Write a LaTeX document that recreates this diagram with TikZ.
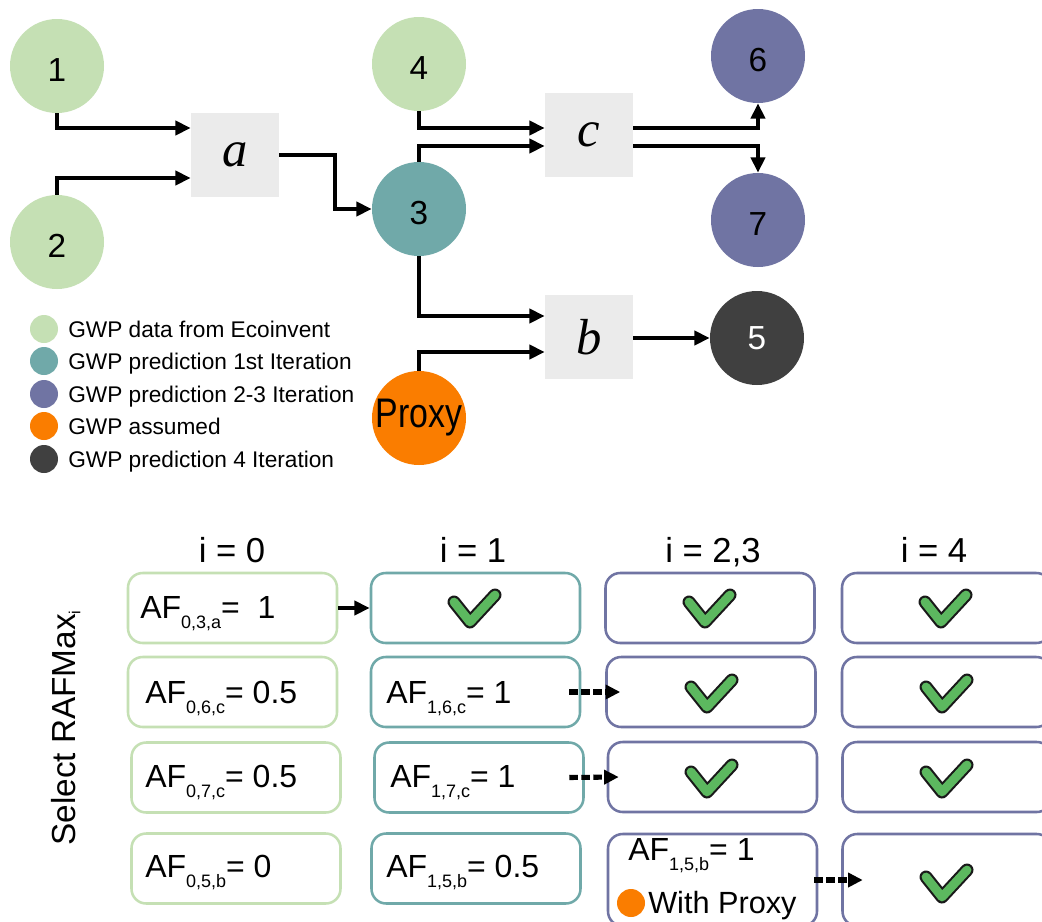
\documentclass[tikz,border=0pt]{standalone}
\usepackage{fontspec}
\setmainfont{Liberation Sans}
\newfontfamily\serifit{Liberation Serif}
\usetikzlibrary{arrows.meta,calc}
\definecolor{lgreen}{HTML}{C5E0B4}
\definecolor{cteal}{HTML}{70A9A9}
\definecolor{cpurple}{HTML}{7074A3}
\definecolor{corange}{HTML}{FA7D00}
\definecolor{cdark}{HTML}{404040}
\definecolor{cgray}{HTML}{EBEBEB}
\definecolor{cgreen}{HTML}{5CB85F}
\newcommand\sbs[1]{\raisebox{-7.5pt}{\fontsize{13.5}{13.5}\selectfont #1}}
\begin{document}
\begin{tikzpicture}[x=0.75pt,y=-0.75pt,
  circbase/.style={circle,minimum size=70.5pt,inner sep=0pt},
  circ/.style={circbase,font=\fontsize{25}{25}\selectfont,text height=23.5pt,text depth=0pt},
  opbox/.style={rectangle,fill=cgray,minimum width=66pt,minimum height=63pt,inner sep=0pt,font=\serifit\itshape\fontsize{38}{38}\selectfont},
  arr/.style={line width=3pt,-{Triangle[length=11.5pt,width=10.5pt]}},
  darr/.style={line width=3.8pt,dash pattern=on 6.5pt off 2.5pt,-{Triangle[length=11pt,width=10.5pt]}},
  leg/.style={circle,minimum size=21pt,inner sep=0pt},
  legtext/.style={anchor=base west,font=\fontsize{17}{17}\selectfont,inner sep=0pt},
  hdr/.style={anchor=base,font=\fontsize{26}{26}\selectfont,inner sep=0pt},
  cell/.style={draw,rounded corners=11pt,line width=1.9pt,minimum width=156.75pt,minimum height=52.5pt,inner sep=0pt},
  tallcell/.style={cell,minimum height=69pt},
  aftext/.style={anchor=base west,font=\fontsize{24}{24}\selectfont,inner sep=0pt},
  chk/.pic={
    \draw[line width=9.75pt,line cap=round,line join=round,black!90] (-21,-6) -- (-5,14) -- (20,-13);
    \draw[line width=6.6pt,line cap=round,line join=round,cgreen] (-21,-6) -- (-5,14) -- (20,-13);
  }
]
\clip (0,0) rectangle (1042,921);
\fill[white] (0,0) rectangle (1042,921);

% ---- top graph ----
\node[circ,fill=lgreen] (n1) at (57,66) {1};
\node[circ,fill=lgreen] (n2) at (57,242) {2};
\node[opbox] (a) at (235,155) {a};
\node[circ,fill=lgreen] (n4) at (419,64) {4};
\node[circ,fill=cteal] (n3) at (419,209) {3};
\node[opbox] (c) at (589,135) {c};
\node[circ,fill=cpurple] (n6) at (758,56) {6};
\node[circ,fill=cpurple] (n7) at (758,220) {7};
\node[opbox] (b) at (589,337) {b};
\node[circbase,fill=cdark,text=white,font=\fontsize{25}{25}\selectfont] (n5) at (757,338) {5};
\node[circbase,fill=corange] (px) at (419,418) {\scalebox{0.82}[1]{\fontsize{31}{31}\selectfont Proxy}};

\draw[arr] (n1.south) |- (a.west |- 0,128);
\draw[arr] (n2.north) |- (a.west |- 0,178);
\draw[arr] (a.east) -- (335,155) |- (n3.west);
\draw[arr] (n4.south) |- (c.west |- 0,128);
\draw[arr] (n3.north) |- (c.west |- 0,146);
\draw[arr] (c.east |- 0,128) -| (n6.south);
\draw[arr] (c.east |- 0,146) -| (n7.north);
\draw[arr] (n3.south) |- (b.west |- 0,316);
\draw[arr] (px.north) |- (b.west |- 0,352);
\draw[arr] (b.east |- n5.west) -- (n5.west);

% ---- legend ----
\node[leg,fill=lgreen] (l1) at (44,329) {};
\node[leg,fill=cteal] (l2) at (44,361) {};
\node[leg,fill=cpurple] (l3) at (44,394) {};
\node[leg,fill=corange] (l4) at (44,426) {};
\node[leg,fill=cdark] (l5) at (44,459) {};
\node[legtext] (lt1) at (68,337.5) {GWP data from Ecoinvent};
\node[legtext] (lt2) at (68,369.5) {GWP prediction 1st Iteration};
\node[legtext] (lt3) at (68,402.5) {GWP prediction 2-3 Iteration};
\node[legtext] (lt4) at (68,434.5) {GWP assumed};
\node[legtext] (lt5) at (68,467.5) {GWP prediction 4 Iteration};

% ---- bottom table ----
\node[rotate=90,anchor=base,font=\fontsize{25}{25}\selectfont,inner sep=0pt] (ylab) at (75,728) {Select RAFMax\raisebox{-4pt}{\fontsize{12}{12}\selectfont i}};

\node[hdr] (h0) at (232,562) {i = 0};
\node[hdr] (h1) at (473,562) {i = 1};
\node[hdr] (h2) at (713,562) {i = 2,3};
\node[hdr] (h3) at (934,562) {i = 4};

\node[cell,draw=lgreen] (k00) at (232.5,608) {};
\node[cell,draw=lgreen] (k01) at (232.5,692) {};
\node[cell,draw=lgreen] (k02) at (236,777.5) {};
\node[cell,draw=lgreen] (k03) at (236,868.5) {};
\node[cell,draw=cteal] (k10) at (475.5,608) {};
\node[cell,draw=cteal] (k11) at (475.5,692) {};
\node[cell,draw=cteal] (k12) at (479,777.5) {};
\node[cell,draw=cteal] (k13) at (476,868.5) {};
\node[cell,draw=cpurple] (k20) at (710,608) {};
\node[cell,draw=cpurple] (k21) at (711,692) {};
\node[cell,draw=cpurple] (k22) at (712.5,777) {};
\node[tallcell,draw=cpurple] (k23) at (712.5,880) {};
\node[cell,draw=cpurple] (k30) at (946.5,608) {};
\node[cell,draw=cpurple] (k31) at (946.5,692) {};
\node[cell,draw=cpurple] (k32) at (947,777) {};
\node[tallcell,draw=cpurple] (k33) at (947,880) {};

\node[aftext] (t00) at (140,618) {AF\sbs{0,3,a}=\ \ 1};
\node[aftext] (t01) at (145,703) {AF\sbs{0,6,c}= 0.5};
\node[aftext] (t02) at (145,787) {AF\sbs{0,7,c}= 0.5};
\node[aftext] (t03) at (145,877) {AF\sbs{0,5,b}= 0};
\node[aftext] (t11) at (386,703) {AF\sbs{1,6,c}= 1};
\node[aftext] (t12) at (390,787) {AF\sbs{1,7,c}= 1};
\node[aftext] (t13) at (386,877) {AF\sbs{1,5,b}= 0.5};
\node[aftext] (t23) at (628,860) {AF\sbs{1,5,b}= 1};
\node[circle,fill=corange,minimum size=21pt,inner sep=0pt] (pdot) at (631,903) {};
\node[aftext,font=\fontsize{23}{23}\selectfont] (wp) at (648,913) {With Proxy};

\pic at (475,608) {chk};
\pic at (710,608) {chk};
\pic at (712,693) {chk};
\pic at (712,778) {chk};
\pic at (946,608) {chk};
\pic at (947,693) {chk};
\pic at (947,778) {chk};
\pic at (947,883) {chk};

\draw[arr] (k00.east) -- (k10.west);
\draw[darr] ($(k11.east)+(-12,0)$) -- ($(k21.west)+(15,0)$);
\draw[darr] ($(k12.east)+(-15.5,0)$) -- ($(k22.west)+(12,0)$);
\draw[darr] ($(k23.east)+(-4,0)$) -- ($(k33.west)+(21.5,0)$);
\end{tikzpicture}
\end{document}
